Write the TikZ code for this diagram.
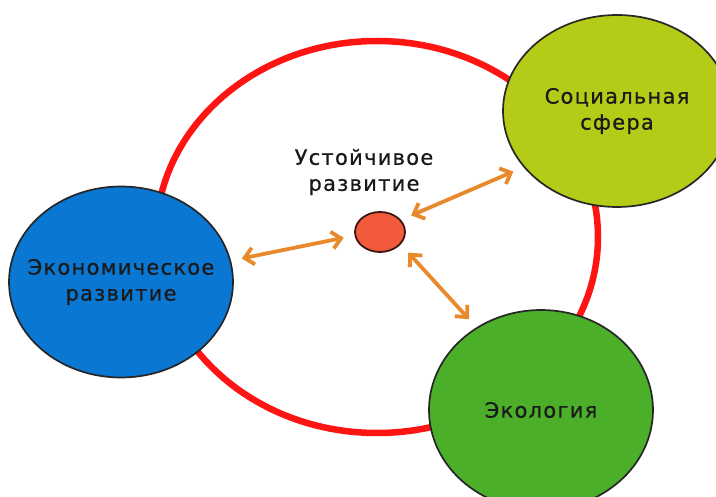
\documentclass[tikz,border=0pt]{standalone}
\usepackage{fontspec}
\setmainfont{DejaVu Sans}[LetterSpace=6,FakeBold=0.6]
\usetikzlibrary{shapes.geometric,arrows.meta}

\definecolor{ringred}{HTML}{FF1414}
\definecolor{econblue}{HTML}{0A78D2}
\definecolor{socgreen}{HTML}{B4CC18}
\definecolor{ecolgreen}{HTML}{4BAF2A}
\definecolor{corered}{HTML}{F25A3C}
\definecolor{linkorange}{HTML}{E8892B}
\definecolor{txt}{HTML}{1A1A1A}

\begin{document}
\begin{tikzpicture}[x=1pt,y=-1pt,
  sphere/.style={shape=ellipse, draw=black!85, line width=1.7pt, inner sep=0pt,
    minimum width=224pt, minimum height=191pt},
  lbl/.style={align=center, text=txt, font=\fontsize{21}{26}\selectfont},
  link/.style={<->, draw=linkorange, line width=3.8pt,
    >={Straight Barb[length=9pt,width=17pt]}, shorten <=11pt, shorten >=11pt}]

\useasboundingbox (0,0) rectangle (716,497);

% big ring behind everything
\path (377,237) node (ring) [shape=ellipse, draw=ringred, line width=6.5pt,
  minimum width=442pt, minimum height=392pt] {};

\path (121,282) node (econ) [sphere, fill=econblue,
  label={[lbl]center:Экономическое\\развитие}] {};
\path (617,111) node (soc) [sphere, fill=socgreen, minimum width=228pt,
  minimum height=192pt, label={[lbl]center:Социальная\\сфера}] {};
\path (541,410) node (ecol) [sphere, fill=ecolgreen, minimum height=200pt,
  label={[lbl]center:Экология}] {};

\path (380,232) node (usr) [shape=ellipse, draw=black!75!corered, fill=corered,
  line width=1.8pt, inner sep=0pt, minimum width=50pt, minimum height=40pt] {};
\path (364,172) node (usrtext) [lbl] {Устойчивое\\развитие};

\draw [link] (usr.188) to (econ.11);
\draw [link] (usr.30) to (soc.211);
\draw [link] (usr.329) to (ecol.128);

\end{tikzpicture}
\end{document}
